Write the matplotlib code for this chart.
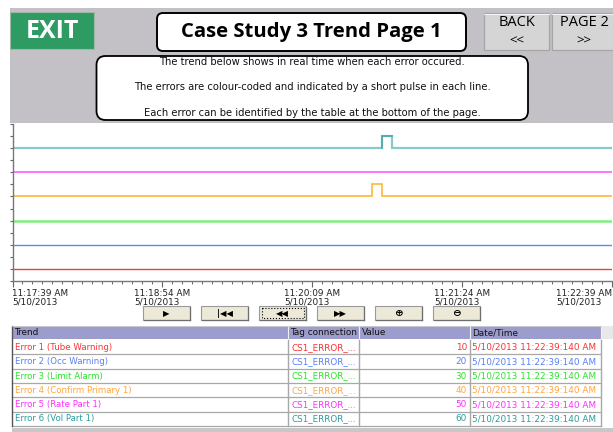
import matplotlib
matplotlib.use("Agg")
import matplotlib.pyplot as plt
from matplotlib.patches import Rectangle, FancyBboxPatch

W, H = 613, 432

# ---------------- data ----------------
time_labels = ["11:17:39 AM\n5/10/2013", "11:18:54 AM\n5/10/2013",
               "11:20:09 AM\n5/10/2013", "11:21:24 AM\n5/10/2013",
               "11:22:39 AM\n5/10/2013"]
tick_seconds = [0, 75, 150, 225, 300]

err1_t = [0, 300]
err1_v = [10, 10]
err2_t = [0, 300]
err2_v = [20, 20]
err3_t = [0, 300]
err3_v = [30, 30]
err4_t = [0, 180, 185, 300]
err4_v = [40, 45, 40, 40]
err5_t = [0, 300]
err5_v = [50, 50]
err6_t = [0, 185, 190, 300]
err6_v = [60, 65, 60, 60]

trend_names = ["Error 1 (Tube Warning)", "Error 2 (Occ Warning)",
               "Error 3 (Limit Alarm)", "Error 4 (Confirm Primary 1)",
               "Error 5 (Rate Part 1)", "Error 6 (Vol Part 1)"]
tag_names = ["CS1_ERROR_..."] * 6
values = [10, 20, 30, 40, 50, 60]
datetimes = ["5/10/2013 11:22:39:140 AM"] * 6

info_lines = ["The trend below shows in real time when each error occured.",
              "The errors are colour-coded and indicated by a short pulse in each line.",
              "Each error can be identified by the table at the bottom of the page."]

line_colors = ["#f04040", "#5b8cf0", "#80ee80", "#ffb53a", "#ff5cff", "#86caca"]
text_colors = ["#ff3030", "#5a80f5", "#30e030", "#ffa640", "#ff30ff", "#2a9d9d"]

FONT = "DejaVu Sans"
BIG = "Open Sans"

fig = plt.figure(figsize=(W / 100, H / 100), dpi=100)
fig.patch.set_facecolor("white")

ui = fig.add_axes([0, 0, 1, 1])
ui.set_xlim(0, W)
ui.set_ylim(H, 0)
ui.axis("off")


def rect(x0, y0, x1, y1, fc, ec="none", lw=0.0, z=1, ls="-"):
    ui.add_patch(Rectangle((x0, y0), x1 - x0, y1 - y0, facecolor=fc,
                           edgecolor=ec, linewidth=lw, zorder=z, linestyle=ls))


def rbox(x0, y0, x1, y1, r=6, lw=1.3):
    ui.add_patch(FancyBboxPatch((x0, y0), x1 - x0, y1 - y0,
                                boxstyle=f"round,pad=0,rounding_size={r}",
                                facecolor="white", edgecolor="black",
                                linewidth=lw, zorder=3))


# gray header area
rect(10, 8, W, 123, "#c3c1c5", z=1)

# EXIT button
rect(10, 12, 94, 49, "#2e9b63", ec="#9fb8a8", lw=0.8, z=2)
ui.text(52, 31, "EXIT", color="white", fontsize=18, family=BIG,
        fontweight="bold", ha="center", va="center", zorder=4)

# title box
rbox(157, 13, 466, 51, r=6, lw=1.4)
ui.text(311.5, 32.5, "Case Study 3 Trend Page 1", fontsize=14.6, family=BIG,
        fontweight="bold", ha="center", va="center", zorder=4)

# BACK / PAGE 2 buttons
for (x0, x1, t1) in [(484, 549, "BACK"), (552, 616, "PAGE 2")]:
    rect(x0, 13, x1, 50, "#d5d5d5", ec="#a6a6a6", lw=0.9, z=2)
    ui.plot([x0, x1], [13.5, 13.5], color="#f2f2f2", lw=0.8, zorder=3)
    ui.text((x0 + x1) / 2, 23, t1, fontsize=10.5, family=BIG,
            ha="center", va="center", zorder=4)
    ui.text((x0 + x1) / 2, 41, "<<" if t1 == "BACK" else ">>", fontsize=9.5,
            family=BIG, ha="center", va="center", zorder=4)

# info box
rbox(96.5, 56, 528, 120, r=9, lw=1.3)
for i, (s, y) in enumerate(zip(info_lines, [62, 87.5, 113])):
    ui.text(312, y, s, fontsize=7.2, family=FONT, ha="center", va="center",
            zorder=4, color="#111111")

# ---------------- trend chart ----------------
left, right, top, bottom = 12.5, 612, 124, 281
ax = fig.add_axes([left / W, 1 - bottom / H, (right - left) / W, (bottom - top) / H])
ax.set_xlim(0, 300)
ax.set_ylim(5, 70)
ax.set_facecolor("white")
series = [(err1_t, err1_v, 1.0), (err2_t, err2_v, 1.0), (err3_t, err3_v, 1.8),
          (err4_t, err4_v, 1.2), (err5_t, err5_v, 1.2), (err6_t, err6_v, 1.6)]
for (t, v, lw), c in zip(series, line_colors):
    ax.plot(t, v, drawstyle="steps-post", color=c, lw=lw, solid_joinstyle="miter")
ax.plot(err6_t[1:3] + [err6_t[2]], [err6_v[0], err6_v[1], err6_v[1]],
        drawstyle="steps-pre", color="#4aa9a9", lw=1.2)

for s in ["top", "right"]:
    ax.spines[s].set_visible(False)
for s in ["left", "bottom"]:
    ax.spines[s].set_color("#777777")
    ax.spines[s].set_linewidth(1.0)

ax.set_yticks(list(range(5, 71, 5)))
ax.set_yticklabels([])
ax.tick_params(axis="y", length=2.5, width=0.8, color="#666666", direction="out")
ax.set_xticks(tick_seconds)
ax.set_xticks(list(range(0, 301, 5)), minor=True)
ax.set_xticklabels(time_labels, fontsize=6.4, family=FONT, color="#222222",
                   linespacing=1.05, multialignment="left")
ax.tick_params(axis="x", which="major", length=4, width=0.8, color="#666666", pad=1.5)
ax.tick_params(axis="x", which="minor", length=2, width=0.7, color="#666666")
labs = ax.get_xticklabels()
labs[0].set_ha("left")
labs[-1].set_ha("right")

# ---------------- control buttons ----------------
icons = ["\u25B6", "|\u25C0\u25C0", "\u25C0\u25C0", "\u25B6\u25B6", "\u2295", "\u2296"]
for i, ic in enumerate(icons):
    x0 = 143 + 58 * i
    x1 = x0 + 47
    rect(x0, 306, x1, 320, "#ece9d8", ec="#9a9a9a", lw=0.8, z=2)
    ui.plot([x0 + 0.5, x1 - 0.5], [320, 320], color="#6e6e6e", lw=0.9, zorder=3)
    ui.plot([x1, x1], [306.5, 320], color="#6e6e6e", lw=0.9, zorder=3)
    if i == 2:
        rect(x0 + 2.5, 308, x1 - 2.5, 318, "none", ec="black", lw=0.8, z=3, ls=":")
    ui.text((x0 + x1) / 2, 313.3, ic, fontsize=6.0 if i < 4 else 7.5,
            family=FONT, ha="center", va="center", zorder=4,
            fontweight="bold")

# ---------------- table ----------------
col_x = [12, 288, 359, 470, 601, 613]
hy0, hy1 = 326, 339
rh = 14.3
rect(col_x[0], hy0, col_x[4], hy1, "#9d9dcd", ec="none", z=2)
rect(col_x[4], hy0, col_x[5], hy1, "#e8e8e8", ec="none", z=2)
headers = ["Trend", "Tag connection", "Value", "Date/Time"]
for j, h in enumerate(headers):
    ui.text(col_x[j] + 2.5, (hy0 + hy1) / 2 + 0.3, h, fontsize=6.4, family=FONT,
            ha="left", va="center", zorder=4, color="#111111")
    if j > 0:
        ui.plot([col_x[j], col_x[j]], [hy0, hy1], color="#f0f0f0", lw=0.8, zorder=3)
ui.plot([col_x[4], col_x[4]], [hy0, hy1], color="#f0f0f0", lw=0.8, zorder=3)

ty0 = hy1 + 1
ty1 = ty0 + rh * 6
rect(col_x[0], ty0, col_x[4], ty1, "white", ec="none", z=2)
for i in range(6):
    y0 = ty0 + rh * i
    yc = y0 + rh / 2 + 0.3
    c = text_colors[i]
    ui.text(col_x[0] + 3, yc, trend_names[i], color=c, fontsize=6.2, family=FONT,
            ha="left", va="center", zorder=4)
    ui.text(col_x[1] + 3, yc, tag_names[i], color=c, fontsize=6.3, family=FONT,
            ha="left", va="center", zorder=4)
    ui.text(col_x[3] - 3, yc, str(values[i]), color=c, fontsize=6.4, family=FONT,
            ha="right", va="center", zorder=4)
    ui.text(col_x[3] + 2.5, yc, datetimes[i], color=c, fontsize=6.4, family=FONT,
            ha="left", va="center", zorder=4)
    ui.plot([col_x[0], col_x[4]], [y0 + rh, y0 + rh], color="#a8a8a8", lw=0.9, zorder=3)
for xx in col_x[1:5]:
    ui.plot([xx, xx], [ty0, ty1], color="#a8a8a8", lw=1.0, zorder=3)
ui.plot([col_x[0], col_x[0]], [hy0, ty1], color="#555555", lw=1.0, zorder=3)
ui.plot([col_x[0], col_x[4]], [hy0, hy0], color="#d0d0d0", lw=0.6, zorder=3)
rect(col_x[0], ty1 + 2, W, H, "#c8c8c8", ec="none", z=2)

fig.savefig("out.png", dpi=100, facecolor="white")
